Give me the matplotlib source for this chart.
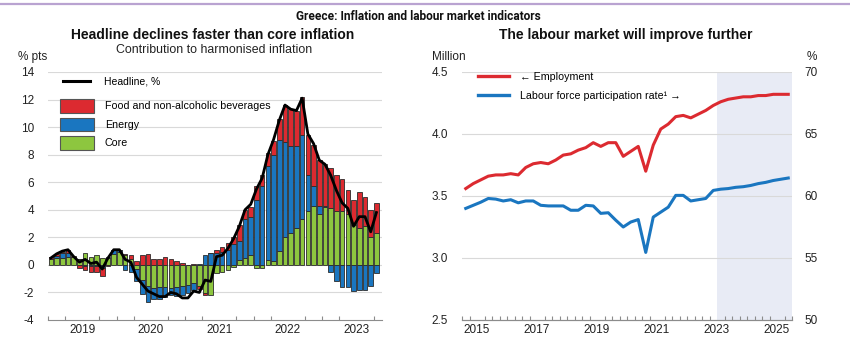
import numpy as np
import matplotlib
matplotlib.use("Agg")
import matplotlib.pyplot as plt
from matplotlib.patches import Patch
from matplotlib.lines import Line2D
from matplotlib.ticker import FixedLocator

plt.rcParams['font.family'] = ['Liberation Sans', 'DejaVu Sans']

# ---- Contributions to HICP inflation, monthly, Jan 2019 - Oct 2023 (% pts)
food = [0.15, 0.15, 0.1, 0.2, 0.05, -0.2, -0.3, -0.4, -0.45, -0.6, -0.1, 0.05,
        0.05, 0.05, 0.3, 0.3, 0.7, 0.8, 0.4, 0.4, 0.55, 0.4, 0.25, 0.15,
        0.0, 0.05, -0.25, -0.1, 0.0, 0.25, 0.35, 0.55, 0.5, 1.2, 0.7, 0.7,
        1.0, 0.8, 0.9, 1.0, 1.5, 2.7, 2.75, 2.6, 2.8, 2.9, 3.0, 3.3,
        3.0, 2.9, 2.6, 2.3, 1.7, 1.8, 2.65, 2.15, 1.95, 2.2]
energy = [0.0, 0.15, 0.35, 0.3, 0.0, 0.0, -0.1, -0.1, -0.1, -0.2, 0.1, 0.25,
          0.1, -0.4, -0.5, -0.9, -1.0, -1.15, -0.85, -0.9, -0.7, -0.5, -0.65, -0.6,
          -0.6, -0.5, 0.05, 0.75, 0.85, 0.85, 0.95, 1.05, 1.5, 1.35, 2.8, 2.8,
          4.7, 5.7, 6.85, 7.75, 8.1, 6.85, 6.3, 5.95, 6.1, 2.6, 1.4, 0.6,
          0.1, -0.5, -1.2, -1.6, -1.6, -1.9, -1.8, -1.8, -1.5, -0.6]
core = [0.45, 0.5, 0.5, 0.55, 0.6, 0.4, 0.85, 0.6, 0.7, 0.5, 0.5, 0.8,
        0.95, 0.75, 0.4, -0.3, -1.1, -1.55, -1.65, -1.6, -1.6, -1.7, -1.6, -1.55,
        -1.45, -1.3, -1.5, -2.05, -2.2, -0.6, -0.55, -0.4, -0.15, 0.35, 0.5, 0.7,
        -0.25, -0.25, 0.35, 0.25, 1.0, 2.05, 2.3, 2.65, 3.3, 3.9, 4.3, 3.7,
        4.2, 4.1, 3.9, 3.9, 3.7, 2.9, 2.65, 2.8, 2.05, 2.3]
headline = [0.5, 0.8, 1.0, 1.1, 0.6, 0.2, 0.4, 0.1, 0.2, -0.3, 0.5, 1.1,
            1.1, 0.4, 0.2, -0.9, -1.4, -1.9, -2.1, -2.3, -2.3, -2.0, -2.1, -2.4,
            -2.4, -1.9, -2.0, -1.1, -1.2, 0.6, 0.7, 1.2, 1.9, 2.8, 4.0, 4.4,
            5.5, 6.3, 8.0, 9.1, 10.5, 11.6, 11.3, 11.2, 12.1, 9.5, 8.8, 7.6,
            7.3, 6.5, 5.4, 4.5, 4.1, 2.8, 3.5, 3.5, 2.4, 3.8]
first_year = 2019
inflation_years = [2019, 2020, 2021, 2022, 2023]

# ---- Labour market, quarterly, 2015Q1 - 2025Q4
employment = [3.56, 3.60, 3.63, 3.66, 3.67, 3.67, 3.68, 3.67, 3.73, 3.76, 3.77,
              3.76, 3.79, 3.83, 3.84, 3.87, 3.89, 3.93, 3.90, 3.93, 3.93, 3.82,
              3.86, 3.90, 3.70, 3.91, 4.04, 4.08, 4.14, 4.15, 4.13, 4.16, 4.19,
              4.23, 4.26, 4.28, 4.29, 4.30, 4.30, 4.31, 4.31, 4.32, 4.32, 4.32]
participation = [59.0, 59.25, 59.5, 59.8, 59.75, 59.6, 59.7, 59.45, 59.6, 59.6,
                 59.25, 59.2, 59.2, 59.2, 58.85, 58.85, 59.25, 59.2, 58.6, 58.65,
                 58.05, 57.5, 57.9, 58.1, 55.45, 58.3, 58.7, 59.1, 60.05, 60.05,
                 59.6, 59.7, 59.8, 60.45, 60.55, 60.6, 60.7, 60.75, 60.85, 61.0,
                 61.1, 61.25, 61.35, 61.45]
labour_start = 2015
projection_start = 2023.5
labour_years = [2015, 2017, 2019, 2021, 2023, 2025]

RED = '#dc2a30'
BLUE = '#1a76c0'
GREEN = '#8dc63f'
GRID = '#d9d9d9'
AXIS = '#8c8c8c'
TXT = '#222222'

fig = plt.figure(figsize=(8.5, 3.4), dpi=100)
W, H = 850, 340


def fx(px):
    return px / W


def fy(py):
    return 1 - py / H


fig.add_artist(Line2D([0, 1], [fy(4), fy(4)], color='#b9a3d1', lw=1.6,
                      transform=fig.transFigure))
fig.text(fx(418), fy(17), 'Greece: Inflation and labour market indicators',
         family=['Liberation Sans Narrow', 'Roboto', 'Liberation Sans'],
         weight='bold', fontsize=8.6, ha='center', va='center', color='#111111')

# ================= left panel =================
ax1 = fig.add_axes([fx(48), fy(320), fx(334), 248 / H])
n = len(headline)
xm = first_year + (np.arange(n) + 0.5) / 12.0
pos = np.zeros(n)
neg = np.zeros(n)
for vals, col in [(core, GREEN), (energy, BLUE), (food, RED)]:
    v = np.asarray(vals, dtype=float)
    base = np.where(v >= 0, pos, neg)
    ax1.bar(xm, v, bottom=base, width=0.8 / 12, color=col,
            edgecolor='#2b2b2b', linewidth=0.6, zorder=3)
    pos += np.clip(v, 0, None)
    neg += np.clip(v, None, 0)
ax1.plot(xm, headline, color='black', lw=2.0, zorder=4)

ax1.set_xlim(first_year, first_year + n / 12.0 + 0.04)
ax1.set_ylim(-4, 14)
yt = np.arange(-4, 15, 2)
ax1.set_yticks(yt)
ax1.set_yticklabels([str(v) for v in yt])
for v in yt[1:]:
    ax1.axhline(v, color=GRID, lw=0.8, zorder=0)
ax1.xaxis.set_major_locator(FixedLocator([y + 0.5 for y in inflation_years]))
ax1.set_xticklabels([str(y) for y in inflation_years])
ax1.xaxis.set_minor_locator(FixedLocator(
    [first_year + q / 4 for q in range(0, 4 * 5 + 1)]))
ax1.tick_params(axis='x', which='major', length=0, pad=3, labelsize=8.5,
                colors=TXT)
ax1.tick_params(axis='x', which='minor', length=3, direction='in',
                color=AXIS, width=0.8)
ax1.tick_params(axis='y', length=0, pad=10, labelsize=8.5, colors=TXT)
for s in ['top', 'right', 'left']:
    ax1.spines[s].set_visible(False)
ax1.spines['bottom'].set_color(AXIS)
ax1.spines['bottom'].set_linewidth(0.8)

fig.text(fx(213), fy(35), 'Headline declines faster than core inflation',
         weight='bold', fontsize=10, ha='center', va='center', color='#111111')
fig.text(fx(214), fy(50), 'Contribution to harmonised inflation',
         fontsize=8.9, ha='center', va='center', color=TXT)
fig.text(fx(18), fy(57), '% pts', fontsize=8.5, ha='left', va='center',
         color=TXT)

leg1 = ax1.legend([Line2D([], [], color='black', lw=2.2)], ['Headline, %'],
                  loc='center left', bbox_to_anchor=(fx(63), fy(82)),
                  bbox_transform=fig.transFigure, frameon=False,
                  borderpad=0, borderaxespad=0, fontsize=7.5,
                  handlelength=2.6, handletextpad=1.3)
ax1.add_artist(leg1)
patches = [Patch(facecolor=RED, edgecolor='#555555', lw=0.8),
           Patch(facecolor=BLUE, edgecolor='#555555', lw=0.8),
           Patch(facecolor=GREEN, edgecolor='#555555', lw=0.8)]
ax1.legend(patches, ['Food and non-alcoholic beverages', 'Energy', 'Core'],
           loc='upper left', bbox_to_anchor=(fx(60), fy(99)),
           bbox_transform=fig.transFigure, frameon=False, borderpad=0,
           borderaxespad=0, fontsize=7.7, handlelength=3.2,
           handleheight=1.6, handletextpad=1.0, labelspacing=0.45)

# ================= right panel =================
ax2 = fig.add_axes([fx(462), fy(320), fx(330), 248 / H])
ax3 = ax2.twinx()
nq = len(employment)
xq = labour_start + (np.arange(nq) + 0.5) / 4.0
ax2.axvspan(projection_start, labour_start + 11, color='#e8ebf5', lw=0,
            zorder=0)
for v in [3.0, 3.5, 4.0, 4.5]:
    ax2.axhline(v, color=GRID, lw=0.8, zorder=1)
ax2.plot(xq, employment, color=RED, lw=2.2, zorder=3)
ax3.plot(xq, participation, color=BLUE, lw=2.2, zorder=3)

ax2.set_xlim(labour_start, labour_start + 11)
ax2.set_ylim(2.5, 4.5)
ax3.set_ylim(50, 70)
ax2.set_yticks([2.5, 3.0, 3.5, 4.0, 4.5])
ax2.set_yticklabels(['2.5', '3.0', '3.5', '4.0', '4.5'])
ax3.set_yticks([50, 55, 60, 65, 70])
ax3.set_yticklabels(['50', '55', '60', '65', '70'])
ax2.xaxis.set_major_locator(FixedLocator([y + 0.5 for y in labour_years]))
ax2.set_xticklabels([str(y) for y in labour_years])
ax2.xaxis.set_minor_locator(FixedLocator(
    [labour_start + q / 4 for q in range(0, 4 * 11 + 1)]))
ax2.tick_params(axis='x', which='major', length=0, pad=3, labelsize=8.5,
                colors=TXT)
ax2.tick_params(axis='x', which='minor', length=3, direction='in',
                color=AXIS, width=0.8)
ax2.tick_params(axis='y', length=0, pad=10, labelsize=8.5, colors=TXT)
ax3.tick_params(axis='y', length=0, pad=9, labelsize=8.5, colors=TXT)
for a in (ax2, ax3):
    for s in ['top', 'right', 'left']:
        a.spines[s].set_visible(False)
    a.spines['bottom'].set_color(AXIS)
    a.spines['bottom'].set_linewidth(0.8)

fig.text(fx(626), fy(35), 'The labour market will improve further',
         weight='bold', fontsize=10, ha='center', va='center', color='#111111')
fig.text(fx(432), fy(57), 'Million', fontsize=8.5, ha='left', va='center',
         color=TXT)
fig.text(fx(812), fy(57), '%', fontsize=8.5, ha='center', va='center',
         color=TXT)

ax3.legend([Line2D([], [], color=RED, lw=2.4), Line2D([], [], color=BLUE, lw=2.4)],
           ['\u2190 Employment', 'Labour force participation rate\u00b9 \u2192'],
           loc='upper left', bbox_to_anchor=(fx(478), fy(72)),
           bbox_transform=fig.transFigure, frameon=False, borderpad=0,
           borderaxespad=0, fontsize=7.7, handlelength=2.9,
           handletextpad=1.0, labelspacing=0.85)

fig.savefig('out.png', dpi=100)
